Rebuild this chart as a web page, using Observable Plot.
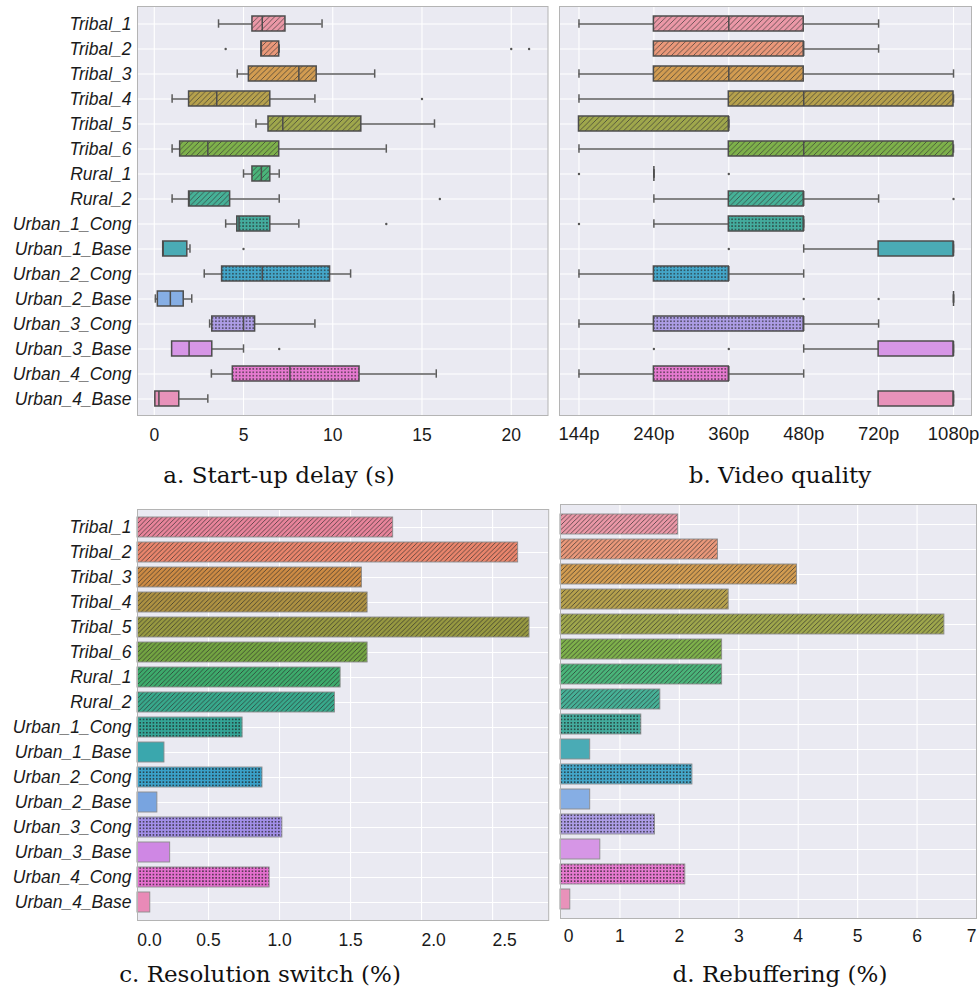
<!DOCTYPE html>
<html>
<head>
<meta charset="utf-8">
<script src="https://cdn.jsdelivr.net/npm/d3@7"></script>
<script src="https://cdn.jsdelivr.net/npm/@observablehq/plot@0.6"></script>
<style>
  html, body { margin: 0; padding: 0; background: #fff; }
  body { width: 980px; height: 996px; position: relative; overflow: hidden; font-family: "Liberation Sans", Arial, sans-serif; }
  .panel { position: absolute; }
  .cap { position: absolute; font-family: "DejaVu Serif", "Liberation Serif", serif; font-size: 23px; line-height: 1; color: #111; transform: translateX(-50%); white-space: nowrap; }
</style>
</head>
<body>
<svg width="0" height="0" style="position:absolute">
  <defs>
    <pattern id="hatchBox" patternUnits="userSpaceOnUse" width="5.5" height="5.5">
      <path d="M0,5.5 L5.5,0 M-2.75,2.75 L2.75,-2.75 M2.75,8.25 L8.25,2.75" stroke="#333" stroke-width="0.8" stroke-opacity="0.85"/>
    </pattern>
    <pattern id="dotBox" patternUnits="userSpaceOnUse" width="3.4" height="3.4">
      <circle cx="1.7" cy="1.7" r="0.8" fill="#222" fill-opacity="0.85"/>
    </pattern>
    <pattern id="hatchBar" patternUnits="userSpaceOnUse" width="4.6" height="4.6">
      <path d="M0,4.6 L4.6,0 M-2.3,2.3 L2.3,-2.3 M2.3,6.9 L6.9,2.3" stroke="#2a2a2a" stroke-width="0.8" stroke-opacity="0.85"/>
    </pattern>
    <pattern id="dotBar" patternUnits="userSpaceOnUse" width="3.3" height="3.3">
      <circle cx="1.65" cy="1.65" r="0.85" fill="#1e1e1e" fill-opacity="0.9"/>
    </pattern>
  </defs>
</svg>

<div id="pa" class="panel" style="left:0;top:0"></div>
<div id="pb" class="panel" style="left:540px;top:0"></div>
<div id="pc" class="panel" style="left:0;top:500px"></div>
<div id="pd" class="panel" style="left:540px;top:500px"></div>

<div class="cap" style="left:279px;top:464px">a. Start-up delay (s)</div>
<div class="cap" style="left:780px;top:464px">b. Video quality</div>
<div class="cap" style="left:260px;top:963px">c. Resolution switch (%)</div>
<div class="cap" style="left:780px;top:963px">d. Rebuffering (%)</div>

<script>
// ---------- categories ----------
const categories = ["Tribal_1","Tribal_2","Tribal_3","Tribal_4","Tribal_5","Tribal_6","Rural_1","Rural_2",
  "Urban_1_Cong","Urban_1_Base","Urban_2_Cong","Urban_2_Base","Urban_3_Cong","Urban_3_Base","Urban_4_Cong","Urban_4_Base"];
const hatchKind = ["line","line","line","line","line","line","line","line",
  "dot","none","dot","none","dot","none","dot","none"];

// ---------- colours ----------
const softPalette = ["#eb98a7","#ea987a","#d29c51","#b6a14d","#9fa74c","#7eb14b","#4ab57a","#46b197",
  "#44ac9e","#4aabb5","#44a6c9","#86aee4","#ad9de6","#d696e6","#e67ad0","#e892ba"];
const barPalette = ["#e8849b","#e9856c","#cd8b44","#ad9142","#979941","#73a442","#3dab6c","#38a98c",
  "#34a597","#3aa7ad","#3aa1c9","#78a4e0","#a28fe8","#cf87e4","#e46fce","#e98ab7"];

// ---------- a. start-up delay (s) ----------
const startupLo  = [3.6, 6.0, 4.65, 1.0, 5.7, 1.0, 5.0, 1.0, 4.0, 0.5, 2.8, 0.06, 3.1, 1.0, 3.2, 0.06];
const startupQ1  = [5.5, 6.0, 5.3, 1.95, 6.4, 1.45, 5.5, 1.95, 4.65, 0.5, 3.8, 0.2, 3.25, 1.0, 4.4, 0.06];
const startupMed = [6.05, 6.0, 8.1, 3.5, 7.2, 3.0, 6.0, 1.95, 4.75, 0.5, 6.05, 0.9, 5.0, 1.95, 7.6, 0.26];
const startupQ3  = [7.35, 7.0, 9.1, 6.5, 11.6, 7.0, 6.5, 4.25, 6.5, 1.85, 9.85, 1.65, 5.65, 3.25, 11.5, 1.4];
const startupHi  = [9.4, 7.0, 12.35, 9.0, 15.7, 13.0, 7.0, 7.0, 8.1, 2.0, 11.0, 2.1, 9.0, 5.0, 15.8, 3.0];
const startupOut = [[], [4.0, 20.0, 21.0], [], [15.0], [], [], [], [16.0], [13.0], [5.0], [], [], [], [7.0], [], []];
const startupTicks = [0, 5, 10, 15, 20];

// ---------- b. video quality (index into qualityLabels) ----------
const qualityLabels = ["144p","240p","360p","480p","720p","1080p"];
const qualityLo  = [0, 1, 0, 0, 0, 0, 1, 1, 1, 3, 0, 5, 0, 3, 0, 4];
const qualityQ1  = [1, 1, 1, 2, 0, 2, 1, 2, 2, 4, 1, 5, 1, 4, 1, 4];
const qualityMed = [2, 3, 2, 3, 2, 3, 1, 3, 3, 5, 2, 5, 3, 5, 2, 5];
const qualityQ3  = [3, 3, 3, 5, 2, 5, 1, 3, 3, 5, 2, 5, 3, 5, 2, 5];
const qualityHi  = [4, 4, 5, 5, 2, 5, 1, 4, 3, 5, 3, 5, 4, 5, 3, 5];
const qualityOut = [[], [], [], [], [], [], [0, 2], [5], [0], [2], [], [3, 4], [], [1, 2], [], []];

// ---------- c. resolution switch (%) ----------
const switchPct = [1.80, 2.68, 1.58, 1.62, 2.76, 1.62, 1.43, 1.39, 0.74, 0.19, 0.88, 0.14, 1.02, 0.23, 0.93, 0.09];
const switchTicks = [0, 0.5, 1.0, 1.5, 2.0, 2.5];

// ---------- d. rebuffering (%) ----------
const rebufPct = [1.98, 2.65, 3.98, 2.83, 6.46, 2.72, 2.72, 1.68, 1.36, 0.50, 2.22, 0.50, 1.59, 0.67, 2.10, 0.165];
const rebufTicks = [0, 1, 2, 3, 4, 5, 6, 7];

const baseStyle = {background: "transparent", fontFamily: "Liberation Sans, Arial, sans-serif", fontSize: "16px", color: "#1a1a1a", overflow: "visible"};
const edge = "#4d4d4d", whisk = "#5c5c5c";
const yAxis = () => Plot.axisY({tickSize: 0, tickPadding: 6, fontSize: 17.5, fontStyle: "italic", fill: "#1a1a1a", label: null});

function boxPanel(o) {
  const rows = categories.map((c, i) => ({cat: c, hatch: hatchKind[i], lo: o.lo[i], q1: o.q1[i], med: o.med[i], q3: o.q3[i], hi: o.hi[i]}));
  const outs = categories.flatMap((c, i) => o.out[i].map(v => ({cat: c, v})));
  const lineRows = rows.filter(r => r.hatch === "line");
  const dotRows = rows.filter(r => r.hatch === "dot");
  const marks = [
    Plot.frame({fill: "#eaeaf2"}),
    Plot.gridX({ticks: o.ticks, stroke: "#ffffff", strokeOpacity: 1, strokeWidth: 1.1}),
    Plot.gridY({stroke: "#ffffff", strokeOpacity: 1, strokeWidth: 1.1}),
    Plot.ruleY(rows, {y: "cat", x1: "lo", x2: "q1", stroke: whisk, strokeWidth: 1.5}),
    Plot.ruleY(rows, {y: "cat", x1: "q3", x2: "hi", stroke: whisk, strokeWidth: 1.5}),
    Plot.tickX(rows, {y: "cat", x: "lo", stroke: whisk, strokeWidth: 1.5, insetTop: 3.3, insetBottom: 3.3}),
    Plot.tickX(rows, {y: "cat", x: "hi", stroke: whisk, strokeWidth: 1.5, insetTop: 3.3, insetBottom: 3.3}),
    Plot.barX(rows, {y: "cat", x1: "q1", x2: "q3", fill: "cat"}),
    Plot.barX(lineRows, {y: "cat", x1: "q1", x2: "q3", fill: "url(#hatchBox)"}),
    Plot.barX(dotRows, {y: "cat", x1: "q1", x2: "q3", fill: "url(#dotBox)"}),
    Plot.barX(rows, {y: "cat", x1: "q1", x2: "q3", fill: "none", stroke: edge, strokeWidth: 1.5}),
    Plot.tickX(rows, {y: "cat", x: "med", stroke: edge, strokeWidth: 1.5}),
    Plot.dot(outs, {y: "cat", x: "v", r: 1.2, fill: "#555", stroke: null}),
    Plot.frame({stroke: "#b4b4b4", strokeWidth: 1}),
    Plot.axisX({ticks: o.ticks, tickFormat: o.tickFormat, tickSize: 0, tickPadding: o.tickPadding, fontSize: o.fontSize, fill: "#1a1a1a", label: null})
  ];
  if (o.showY) marks.push(yAxis());
  return Plot.plot({
    width: o.width, height: o.height,
    marginLeft: o.mL, marginRight: o.mR, marginTop: o.mT, marginBottom: o.mB,
    style: baseStyle,
    x: {domain: o.domain, axis: null, label: null},
    y: {domain: categories, paddingInner: 0.4, paddingOuter: 0.2, align: 0.5, axis: null, label: null},
    color: {domain: categories, range: softPalette},
    marks
  });
}

function barPanel(o) {
  const rows = categories.map((c, i) => ({cat: c, hatch: hatchKind[i], v: o.values[i]}));
  const lineRows = rows.filter(r => r.hatch === "line");
  const dotRows = rows.filter(r => r.hatch === "dot");
  const marks = [
    Plot.frame({fill: "#eaeaf2"}),
    Plot.gridX({ticks: o.ticks, stroke: "#ffffff", strokeOpacity: 1, strokeWidth: 1.1}),
    Plot.gridY({stroke: "#ffffff", strokeOpacity: 1, strokeWidth: 1.1}),
    Plot.barX(rows, {y: "cat", x: "v", fill: "cat"}),
    Plot.barX(lineRows, {y: "cat", x: "v", fill: "url(#hatchBar)"}),
    Plot.barX(dotRows, {y: "cat", x: "v", fill: "url(#dotBar)"}),
    Plot.barX(rows, {y: "cat", x: "v", fill: "none", stroke: "#8c8c8c", strokeWidth: 0.9}),
    Plot.frame({stroke: "#b4b4b4", strokeWidth: 1})
  ];
  // tick labels, some nudged sideways as in the original figure
  for (const g of o.labelGroups) {
    marks.push(Plot.axisX({ticks: g.ticks, tickFormat: o.tickFormat, tickSize: 0, tickPadding: o.tickPadding, fontSize: 17.5, fill: "#1a1a1a", label: null, dx: g.dx}));
  }
  if (o.showY) marks.push(yAxis());
  return Plot.plot({
    width: o.width, height: o.height,
    marginLeft: o.mL, marginRight: o.mR, marginTop: o.mT, marginBottom: o.mB,
    style: baseStyle,
    x: {domain: o.domain, axis: null, label: null},
    y: {domain: categories, paddingInner: 0.2, paddingOuter: 0.1, align: 0.5, axis: null, label: null},
    color: {domain: categories, range: o.palette},
    marks
  });
}

document.getElementById("pa").append(boxPanel({
  lo: startupLo, q1: startupQ1, med: startupMed, q3: startupQ3, hi: startupHi, out: startupOut,
  ticks: startupTicks, tickFormat: d => String(d), domain: [-0.94, 22.06],
  width: 552, height: 456, mL: 137, mR: 4.5, mT: 6, mB: 41, tickPadding: 13, fontSize: 17.5, showY: true
}));

document.getElementById("pb").append(boxPanel({
  lo: qualityLo, q1: qualityQ1, med: qualityMed, q3: qualityQ3, hi: qualityHi, out: qualityOut,
  ticks: [0, 1, 2, 3, 4, 5], tickFormat: i => qualityLabels[i], domain: [-0.26, 5.24],
  width: 440, height: 456, mL: 19, mR: 9, mT: 6, mB: 41, tickPadding: 11, fontSize: 18.5, showY: false
}));

document.getElementById("pc").append(barPanel({
  values: switchPct, tickFormat: d3.format(".1f"), domain: [0, 2.895], palette: barPalette, ticks: switchTicks,
  labelGroups: [{ticks: [0], dx: 12}, {ticks: [0.5, 1.0, 1.5], dx: 0}, {ticks: [2.0, 2.5], dx: 12}],
  width: 552, height: 458, mL: 137, mR: 3.8, mT: 9, mB: 38, tickPadding: 13, showY: true
}));

document.getElementById("pd").append(barPanel({
  values: rebufPct, tickFormat: d => String(d), domain: [0, 7], palette: softPalette, ticks: rebufTicks,
  labelGroups: [{ticks: [0], dx: 8}, {ticks: [1, 2, 3, 4, 5, 6], dx: 0}, {ticks: [7], dx: -5}],
  width: 440, height: 456, mL: 20, mR: 4, mT: 4, mB: 38, tickPadding: 11, showY: false
}));
</script>
</body>
</html>
